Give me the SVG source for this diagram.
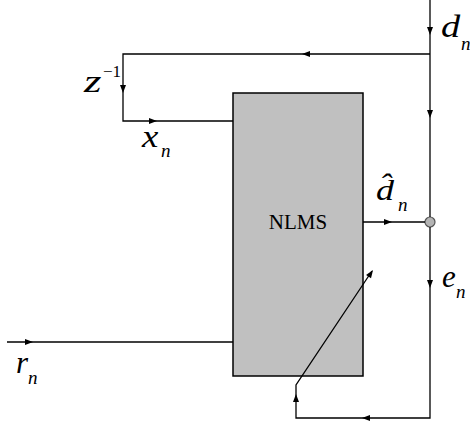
<svg xmlns="http://www.w3.org/2000/svg" xmlns:xlink="http://www.w3.org/1999/xlink" width="470" height="425" viewBox="0 0 470 425">
<style>
.ln{fill:none;stroke:#000;stroke-width:1.3}
.m{font-family:"Liberation Serif","Times New Roman",serif;font-style:italic;fill:#000}
.sub{font-family:"Liberation Serif","Times New Roman",serif;font-style:italic;font-size:19px;fill:#000}
.lab{font-family:"Liberation Serif","Times New Roman",serif;font-size:21px;fill:#000}
</style>
<defs>
<path id="ah" d="M0,0 L-8,-3 L-8,3 Z" fill="#000"/>
</defs>
<rect width="470" height="425" fill="#fff"/>
<g id="nlms">
<rect x="233" y="93" width="130" height="283" fill="#c0c0c0" stroke="#000" stroke-width="1.5"/>
<text class="lab" x="298" y="229" text-anchor="middle">NLMS</text>
</g>
<g id="sum">
<circle cx="430" cy="222" r="5" fill="#b4b4b4" stroke="#555" stroke-width="1.2"/>
</g>
<g id="connectors">
<line class="ln" x1="430" y1="0" x2="430" y2="217"/>
<polyline class="ln" points="430,54 123,54 123,121 233,121"/>
<line class="ln" x1="363" y1="222" x2="425" y2="222"/>
<polyline class="ln" points="430,227 430,418 296,418 296,385 372,271"/>
<line class="ln" x1="7" y1="342" x2="233" y2="342"/>
<use xlink:href="#ah" transform="translate(430,35) rotate(90)"/>
<use xlink:href="#ah" transform="translate(430,118) rotate(90)"/>
<use xlink:href="#ah" transform="translate(302,54) rotate(180)"/>
<use xlink:href="#ah" transform="translate(123,93) rotate(90)"/>
<use xlink:href="#ah" transform="translate(157,121)"/>
<use xlink:href="#ah" transform="translate(392,222)"/>
<use xlink:href="#ah" transform="translate(430,288) rotate(90)"/>
<use xlink:href="#ah" transform="translate(362,418) rotate(180)"/>
<use xlink:href="#ah" transform="translate(296,394) rotate(-90)"/>
<use xlink:href="#ah" transform="translate(373,270) rotate(-56.2)"/>
<use xlink:href="#ah" transform="translate(33,342)"/>
</g>
<g id="label-dn">
<text class="m" font-size="32" transform="translate(441,37) scale(1.2,1)">d</text>
<text class="sub" x="461" y="50">n</text>
</g>
<g id="label-z">
<text class="m" font-size="31" transform="translate(84,92) scale(1.45,1)">z</text>
<text x="103" y="77" font-family="Liberation Serif,serif" font-size="17">−1</text>
</g>
<g id="label-xn">
<text class="m" font-size="32" transform="translate(142,147) scale(1.15,1)">x</text>
<text class="sub" x="161" y="157">n</text>
</g>
<g id="label-dhat">
<text class="m" font-size="30" transform="translate(376,200) scale(1.2,1)">d̂</text>
<text class="sub" x="398" y="211">n</text>
</g>
<g id="label-en">
<text class="m" font-size="31" x="442" y="287">e</text>
<text class="sub" x="456" y="298">n</text>
</g>
<g id="label-rn">
<text class="m" font-size="31" x="16" y="373">r</text>
<text class="sub" x="28" y="384">n</text>
</g>
</svg>
